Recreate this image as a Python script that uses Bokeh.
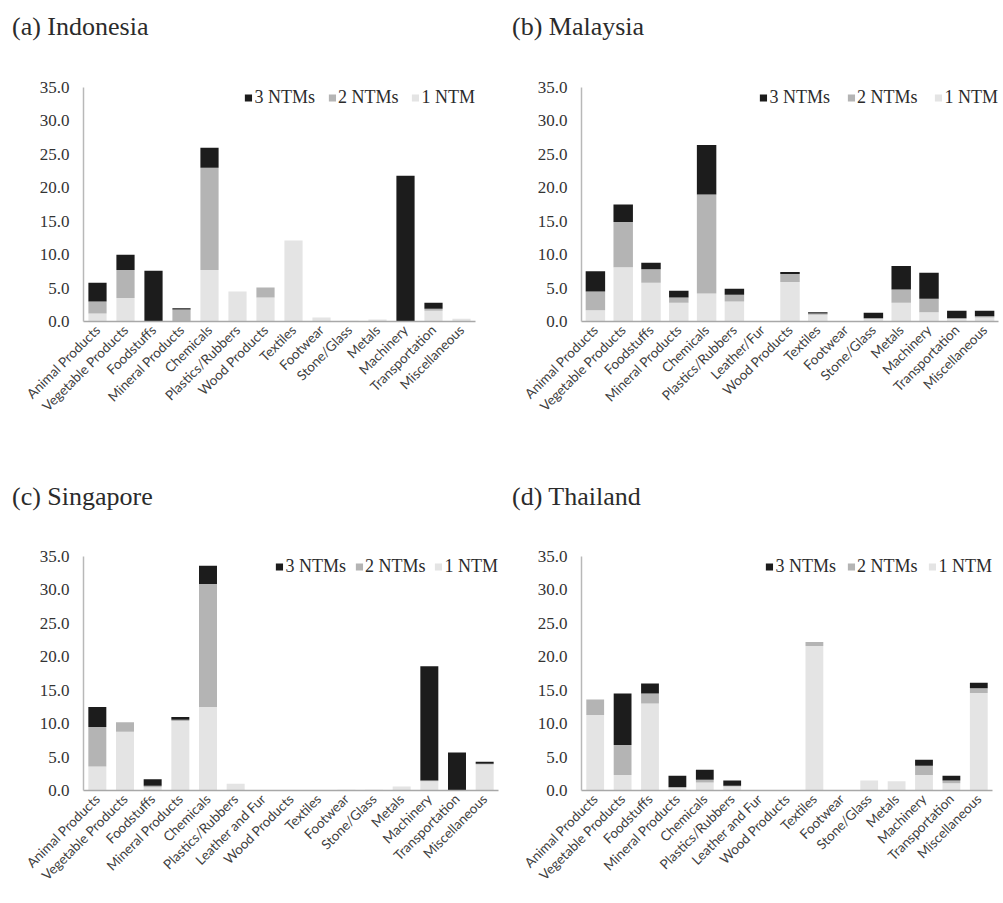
import math
from bokeh.plotting import figure
from bokeh.models import (ColumnDataSource, Legend, LegendItem, NumeralTickFormatter,
                          FixedTicker, Range1d, Div)
from bokeh.layouts import column, row
from bokeh.embed import file_html
from bokeh.resources import INLINE

# ---------------- data ----------------
series_labels = ["1 NTM", "2 NTMs", "3 NTMs"]
series_colors = ["#e4e4e4", "#b4b4b4", "#1c1c1c"]
y_ticks = [0, 5, 10, 15, 20, 25, 30, 35]

indonesia_cats = ["Animal Products", "Vegetable Products", "Foodstuffs", "Mineral Products",
                  "Chemicals", "Plastics/Rubbers", "Wood Products", "Textiles", "Footwear",
                  "Stone/Glass", "Metals", "Machinery", "Transportation", "Miscellaneous"]
indonesia_1ntm = [1.2, 3.5, 0.0, 0.0, 7.7, 4.5, 3.6, 12.1, 0.6, 0.1, 0.3, 0.0, 1.6, 0.4]
indonesia_2ntm = [1.8, 4.2, 0.0, 1.8, 15.3, 0.0, 1.5, 0.0, 0.0, 0.0, 0.0, 0.0, 0.3, 0.0]
indonesia_3ntm = [2.8, 2.3, 7.6, 0.2, 3.0, 0.0, 0.0, 0.0, 0.0, 0.0, 0.0, 21.8, 0.9, 0.0]

malaysia_cats = ["Animal Products", "Vegetable Products", "Foodstuffs", "Mineral Products",
                 "Chemicals", "Plastics/Rubbers", "Leather/Fur", "Wood Products", "Textiles",
                 "Footwear", "Stone/Glass", "Metals", "Machinery", "Transportation",
                 "Miscellaneous"]
malaysia_1ntm = [1.7, 8.1, 5.8, 2.8, 4.2, 3.0, 0.0, 5.9, 1.0, 0.0, 0.4, 2.8, 1.4, 0.4, 0.6]
malaysia_2ntm = [2.8, 6.8, 2.0, 0.8, 14.8, 1.0, 0.0, 1.2, 0.2, 0.0, 0.1, 2.0, 2.0, 0.1, 0.2]
malaysia_3ntm = [3.0, 2.6, 1.0, 1.0, 7.4, 0.9, 0.0, 0.3, 0.2, 0.0, 0.8, 3.5, 3.9, 1.1, 0.8]

singapore_cats = ["Animal Products", "Vegetable Products", "Foodstuffs", "Mineral Products",
                  "Chemicals", "Plastics/Rubbers", "Leather and Fur", "Wood Products",
                  "Textiles", "Footwear", "Stone/Glass", "Metals", "Machinery",
                  "Transportation", "Miscellaneous"]
singapore_1ntm = [3.6, 8.8, 0.5, 10.4, 12.5, 1.0, 0.0, 0.0, 0.0, 0.1, 0.1, 0.6, 1.4, 0.0, 3.9]
singapore_2ntm = [5.9, 1.4, 0.2, 0.2, 18.4, 0.0, 0.0, 0.0, 0.0, 0.0, 0.0, 0.0, 0.1, 0.0, 0.1]
singapore_3ntm = [3.0, 0.0, 1.0, 0.4, 2.7, 0.0, 0.0, 0.0, 0.0, 0.0, 0.0, 0.0, 17.1, 5.7, 0.3]

thailand_cats = ["Animal Products", "Vegetable Products", "Foodstuffs", "Mineral Products",
                 "Chemicals", "Plastics/Rubbers", "Leather and Fur", "Wood Products",
                 "Textiles", "Footwear", "Stone/Glass", "Metals", "Machinery",
                 "Transportation", "Miscellaneous"]
thailand_1ntm = [11.3, 2.3, 13.0, 0.5, 1.2, 0.6, 0.0, 0.0, 21.6, 0.0, 1.5, 1.4, 2.3, 1.1, 14.6]
thailand_2ntm = [2.3, 4.5, 1.5, 0.0, 0.4, 0.1, 0.0, 0.0, 0.6, 0.0, 0.0, 0.0, 1.4, 0.4, 0.7]
thailand_3ntm = [0.0, 7.7, 1.5, 1.7, 1.5, 0.8, 0.0, 0.0, 0.0, 0.0, 0.0, 0.0, 0.9, 0.7, 0.8]


def caption(text, width, height):
    html = ('<div style="margin-left:12px;font-family:\'Liberation Serif\';font-size:26px;'
            'line-height:%dpx;color:#2b2b2b;white-space:nowrap">%s</div>' % (height, text))
    return Div(text=html, width=width, height=height, margin=0)


def panel(cats, one, two, three, width, height, mbl, mbr, mbt, mbb, bar_w, leg_spacing):
    src = ColumnDataSource(dict(cat=cats, one=one, two=two, three=three))
    p = figure(x_range=cats, y_range=Range1d(0, 35), width=width, height=height,
               output_backend="svg", toolbar_location=None,
               min_border_left=mbl, min_border_right=mbr,
               min_border_top=mbt, min_border_bottom=mbb)
    rs = p.vbar_stack(["one", "two", "three"], x="cat", width=bar_w, source=src,
                      fill_color=series_colors, line_color=None)
    p.title.visible = False

    p.xgrid.visible = False
    p.ygrid.visible = False
    p.outline_line_color = None

    p.yaxis.ticker = FixedTicker(ticks=y_ticks)
    p.yaxis.formatter = NumeralTickFormatter(format="0.0")
    p.yaxis.axis_line_color = "#b8b8b8"
    p.yaxis.axis_line_width = 1.5
    p.yaxis.major_tick_line_color = None
    p.yaxis.minor_tick_line_color = None
    p.yaxis.major_tick_out = 0
    p.yaxis.major_tick_in = 0
    p.yaxis.major_label_standoff = 14
    p.yaxis.major_label_text_font = "Liberation Serif"
    p.yaxis.major_label_text_font_size = "17px"
    p.yaxis.major_label_text_color = "#333333"

    p.xaxis.axis_line_color = "#a8a8a8"
    p.xaxis.axis_line_width = 1.5
    p.xaxis.major_tick_line_color = None
    p.xaxis.major_tick_out = 0
    p.xaxis.major_tick_in = 0
    p.xaxis.major_label_orientation = math.pi / 4
    p.xaxis.major_label_standoff = 6
    p.xaxis.major_label_text_font = "Lato"
    p.xaxis.major_label_text_font_size = "13.5px"
    p.xaxis.major_label_text_color = "#404040"

    legend = Legend(items=[LegendItem(label=series_labels[2], renderers=[rs[2]]),
                           LegendItem(label=series_labels[1], renderers=[rs[1]]),
                           LegendItem(label=series_labels[0], renderers=[rs[0]])],
                    orientation="horizontal", location="top_right",
                    border_line_color=None, background_fill_alpha=0,
                    label_text_font="Liberation Serif", label_text_font_size="18px",
                    label_text_color="#2b2b2b",
                    glyph_width=9, glyph_height=9, label_standoff=2,
                    spacing=leg_spacing, padding=0, margin=0)
    p.add_layout(legend)
    return p


TOP_CAP = 54
BOT_CAP = 38

p1 = panel(indonesia_cats, indonesia_1ntm, indonesia_2ntm, indonesia_3ntm,
           500, 478 - TOP_CAP, 83, 25, 87 - TOP_CAP, 157, 0.65, 12)
p2 = panel(malaysia_cats, malaysia_1ntm, malaysia_2ntm, malaysia_3ntm,
           500, 478 - TOP_CAP, 81, 2, 87 - TOP_CAP, 157, 0.7, 16)
p3 = panel(singapore_cats, singapore_1ntm, singapore_2ntm, singapore_3ntm,
           500, 420 - BOT_CAP, 83, 2, 78 - BOT_CAP, 108, 0.65, 8)
p4 = panel(thailand_cats, thailand_1ntm, thailand_2ntm, thailand_3ntm,
           500, 420 - BOT_CAP, 81, 8, 78 - BOT_CAP, 108, 0.65, 10)

layout = column(
    row(column(caption("(a) Indonesia", 500, TOP_CAP), p1),
        column(caption("(b) Malaysia", 500, TOP_CAP), p2)),
    row(column(caption("(c) Singapore", 500, BOT_CAP), p3),
        column(caption("(d) Thailand", 500, BOT_CAP), p4)),
)
open("out.html", "w").write(file_html(layout, INLINE))
